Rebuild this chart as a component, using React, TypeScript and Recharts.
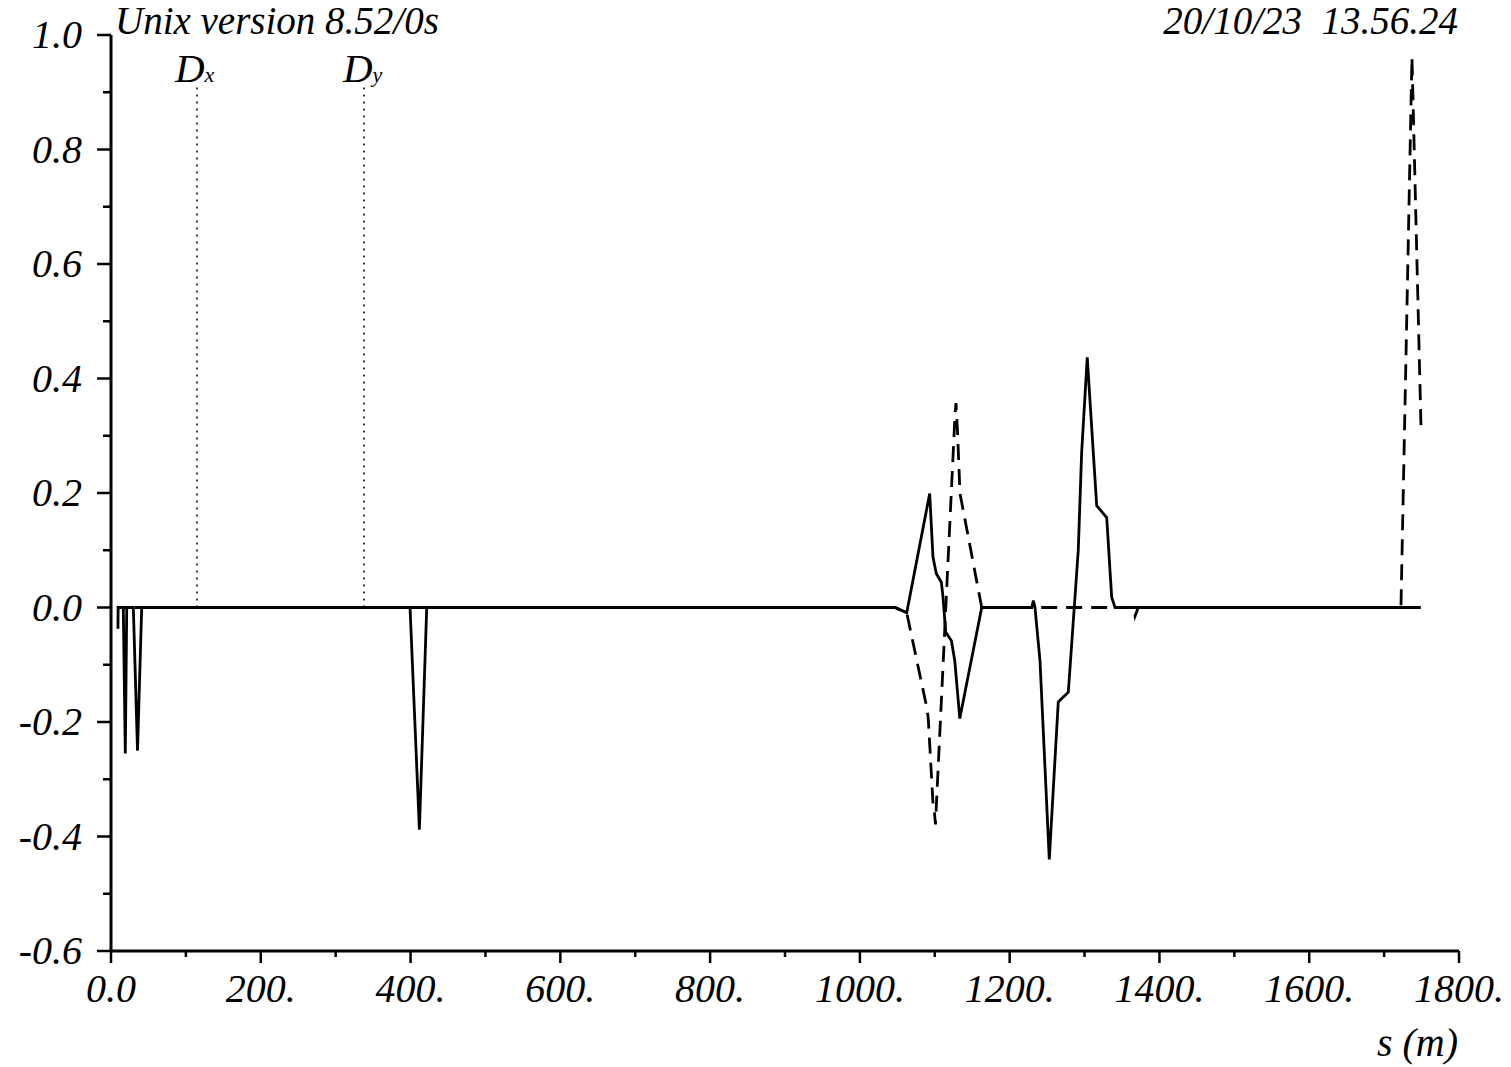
import React from "react";
import { LineChart, Line, XAxis, YAxis, ReferenceLine } from "recharts";

// s positions (m) and values
const DX_S = [9.3, 9.5, 16.4, 19.1, 21, 29.8, 35.4, 41, 399.3, 411.8, 421.6, 1046.9, 1062.5, 1093.2, 1097.6, 1102.1, 1108.8, 1111, 1114.6, 1122.2, 1126.7, 1133.4, 1162.7, 1229.5, 1231.6, 1233.8, 1240.5, 1252.9, 1264.9, 1278.3, 1291.6, 1296.1, 1303.6, 1309.5, 1316.2, 1329.6, 1336.2, 1340.7, 1749];
const DX_V = [-0.037, 0, 0, -0.255, 0, 0, -0.25, 0, 0, -0.388, 0, 0, -0.009, 0.199, 0.088, 0.059, 0.044, 0.018, -0.043, -0.058, -0.093, -0.194, 0, 0, 0.012, 0, -0.093, -0.44, -0.165, -0.148, 0.1, 0.27, 0.437, 0.315, 0.178, 0.157, 0.018, 0, 0];

const DY_S = [9.3, 1046.9, 1062.5, 1089.2, 1091.3, 1098, 1099.6, 1100.9, 1127, 1128.3, 1130.3, 1133.7, 1162.7, 1365.2, 1367.4, 1371.8, 1722.5, 1737.2, 1749.2];
const DY_V = [0, 0, -0.009, -0.174, -0.194, -0.351, -0.359, -0.379, 0.336, 0.357, 0.309, 0.199, 0, 0, -0.015, 0, 0, 0.961, 0.318];

const X_TICKS = [0, 100, 200, 300, 400, 500, 600, 700, 800, 900, 1000, 1100, 1200, 1300, 1400, 1500, 1600, 1700, 1800];
const X_LABELS = ["0.0", "", "200.", "", "400.", "", "600.", "", "800.", "", "1000.", "", "1200.", "", "1400.", "", "1600.", "", "1800."];
const Y_TICKS = [-0.6, -0.5, -0.4, -0.3, -0.2, -0.1, 0, 0.1, 0.2, 0.3, 0.4, 0.5, 0.6, 0.7, 0.8, 0.9, 1.0];
const Y_LABELS = ["-0.6", "", "-0.4", "", "-0.2", "", "0.0", "", "0.2", "", "0.4", "", "0.6", "", "0.8", "", "1.0"];

const MARKERS = [
  { name: "x", s: 114.8 },
  { name: "y", s: 337.8 },
];

const dxData = DX_S.map((s, i) => ({ s, v: DX_V[i] }));
const dyData = DY_S.map((s, i) => ({ s, v: DY_V[i] }));

const FONT = "'Liberation Serif', 'Times New Roman', serif";
const ink = "#000";
const LABEL_SIZE = 40;

const xLabel = (v: number) => X_LABELS[X_TICKS.indexOf(v)] || "";
const yLabel = (v: number) => {
  const i = Y_TICKS.findIndex((t) => Math.abs(t - v) < 1e-6);
  return i >= 0 ? Y_LABELS[i] : "";
};

const BottomTick = ({ x, y, payload }: any) => {
  const lab = xLabel(payload.value);
  return (
    <g>
      <line x1={x} x2={x} y1={y} y2={y + (lab ? 12 : 6)} stroke={ink} strokeWidth={2.5} />
      {lab && (
        <text x={x} y={y + 51} textAnchor="middle" fontFamily={FONT} fontStyle="italic" fontSize={LABEL_SIZE} fill={ink}>
          {lab}
        </text>
      )}
    </g>
  );
};

const TopTick = ({ x, y, payload }: any) => {
  const lab = xLabel(payload.value);
  return <line x1={x} x2={x} y1={y} y2={y + (lab ? 12 : 6)} stroke={ink} strokeWidth={2.5} />;
};

const LeftTick = ({ x, y, payload }: any) => {
  const lab = yLabel(payload.value);
  return (
    <g>
      <line x1={x - (lab ? 14 : 8)} x2={x} y1={y} y2={y} stroke={ink} strokeWidth={2.5} />
      {lab && (
        <text x={x - 29} y={y + 13} textAnchor="end" fontFamily={FONT} fontStyle="italic" fontSize={LABEL_SIZE} fill={ink}>
          {lab}
        </text>
      )}
    </g>
  );
};

const RightTick = ({ x, y, payload }: any) => {
  const lab = yLabel(payload.value);
  return <line x1={x - (lab ? 12 : 6)} x2={x} y1={y} y2={y} stroke={ink} strokeWidth={2.5} />;
};

export default function App() {
  return (
    <div style={{ position: "absolute", left: 0, top: 0, width: 1511, height: 1067, background: "#fff" }}>
      <LineChart width={1511} height={1067} margin={{ top: 35, right: 52, bottom: 56, left: 11 }}>
        <XAxis
          xAxisId="b"
          type="number"
          dataKey="s"
          domain={[0, 1800]}
          ticks={X_TICKS}
          interval={0}
          height={60}
          tickSize={0}
          tickMargin={0}
          tickLine={false}
          tick={<BottomTick />}
          axisLine={{ stroke: ink, strokeWidth: 3 }}
          allowDataOverflow
        />
        <XAxis
          xAxisId="t"
          orientation="top"
          type="number"
          dataKey="s"
          domain={[0, 1800]}
          ticks={X_TICKS}
          interval={0}
          height={0}
          tickSize={0}
          tickMargin={0}
          tickLine={false}
          tick={<TopTick />}
          axisLine={{ stroke: ink, strokeWidth: 3 }}
        />
        <YAxis
          yAxisId="l"
          type="number"
          domain={[-0.6, 1.0]}
          ticks={Y_TICKS}
          interval={0}
          width={100}
          tickSize={0}
          tickMargin={0}
          tickLine={false}
          tick={<LeftTick />}
          axisLine={{ stroke: ink, strokeWidth: 3 }}
          allowDataOverflow
        />
        <YAxis
          yAxisId="r"
          orientation="right"
          type="number"
          domain={[-0.6, 1.0]}
          ticks={Y_TICKS}
          interval={0}
          width={0}
          tickSize={0}
          tickMargin={0}
          tickLine={false}
          tick={<RightTick />}
          axisLine={{ stroke: ink, strokeWidth: 3 }}
        />
        {MARKERS.map((m) => (
          <ReferenceLine
            key={m.name}
            xAxisId="b"
            yAxisId="l"
            segment={[{ x: m.s, y: 0 }, { x: m.s, y: 0.912 }]}
            stroke={ink}
            strokeWidth={1.5}
            strokeDasharray="2 5"
            ifOverflow="visible"
          />
        ))}
        <Line
          xAxisId="b"
          yAxisId="l"
          data={dyData}
          dataKey="v"
          type="linear"
          stroke={ink}
          strokeWidth={2.8}
          strokeDasharray="16 9"
          strokeDashoffset={8}
          dot={false}
          isAnimationActive={false}
        />
        <Line
          xAxisId="b"
          yAxisId="l"
          data={dxData}
          dataKey="v"
          type="linear"
          stroke={ink}
          strokeWidth={2.8}
          dot={false}
          isAnimationActive={false}
        />
      </LineChart>
      <svg width={1511} height={1067} style={{ position: "absolute", left: 0, top: 0, pointerEvents: "none" }}>
        <g fontFamily={FONT} fontStyle="italic" fill={ink}>
          <text x={115} y={34} fontSize={39}>Unix version 8.52/0s</text>
          <text x={1458} y={34} fontSize={39} textAnchor="end" style={{ whiteSpace: "pre" }}>20/10/23  13.56.24</text>
          <text x={1458} y={1056} fontSize={LABEL_SIZE} textAnchor="end">s (m)</text>
          <text x={175} y={82} fontSize={41}>D<tspan fontSize={22}>x</tspan></text>
          <text x={343} y={82} fontSize={41}>D<tspan fontSize={22}>y</tspan></text>
        </g>
      </svg>
    </div>
  );
}
